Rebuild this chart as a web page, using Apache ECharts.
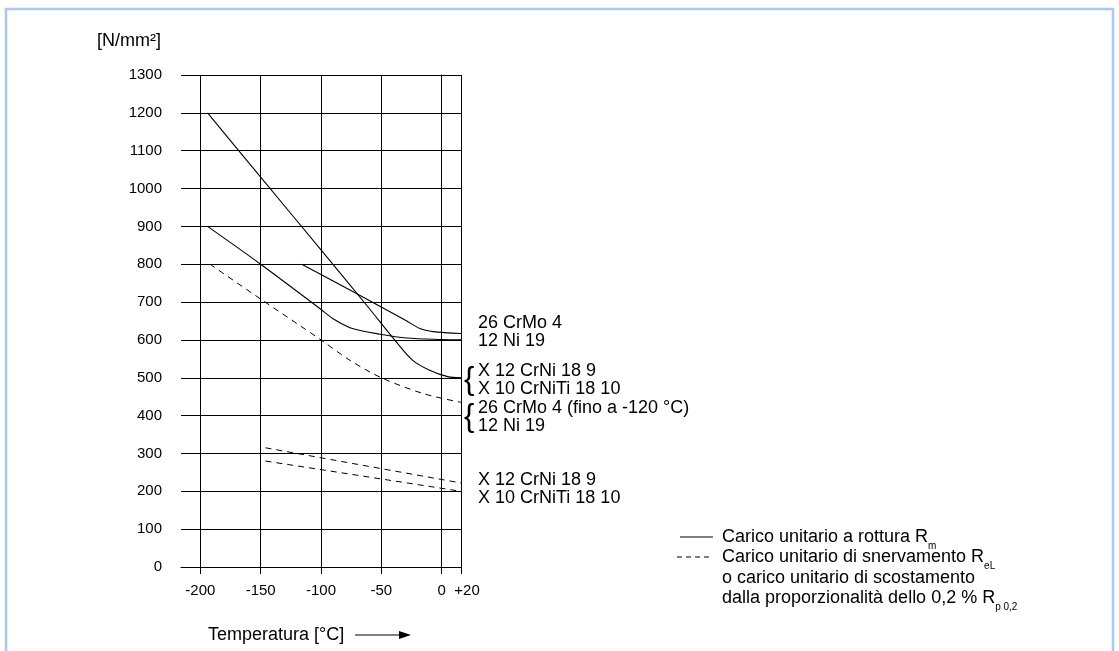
<!DOCTYPE html>
<html><head><meta charset="utf-8">
<script src="https://cdn.jsdelivr.net/npm/echarts@6/dist/echarts.min.js"></script>
<style>html,body{margin:0;padding:0;background:#fff}#c{width:1119px;height:651px}</style>
</head><body><div id="c"></div>
<script>
// ---- data (temperature °C, strength N/mm²) ----
const xTickValues = [-200, -150, -100, -50, 0, 16];
const xTickLabels = ['-200', '-150', '-100', '-50', '0', '+20'];
const yMin = 0, yMax = 1300, yStep = 100;

// tensile strength Rm (solid)
const rmX12CrNi = [[-194,1200],[-150,1030],[-100,838],[-60,683],[-39,600],[-24,546],[-10,520],[5,503],[16,500]];
const rmNi19    = [[-194,900],[-150,800],[-101,683],[-90,656],[-74,630],[-51,615],[-29,605],[0,601],[16,600]];
const rmCrMo4   = [[-116,800],[-68,718],[-30,652],[-18,630],[-7,622],[16,617]];
// yield strength ReL / Rp0,2 (dashed)
const reCrMoNi  = [[-192,800],[-150,708],[-100,600],[-76,546],[-50,500],[-15,458],[16,435]];
const reX12CrNi = [[-146,315],[16,222]];
const reX10CrNiTi = [[-146,280],[16,200]];

const rightLabels = ['26 CrMo 4', '12 Ni 19', 'X 12 CrNi 18 9', 'X 10 CrNiTi 18 10',
  '26 CrMo 4 (fino a -120 °C)', '12 Ni 19', 'X 12 CrNi 18 9', 'X 10 CrNiTi 18 10'];
const legendLines = [
  'Carico unitario a rottura R{s|m}',
  'Carico unitario di snervamento R{s|eL}',
  'o carico unitario di scostamento',
  'dalla proporzionalità dello 0,2 % R{s|p 0,2}'
];
const yTitle = '[N/mm²]';
const xTitle = 'Temperatura [°C]';

// ---- chart ----
const FONT = 'Liberation Sans, Arial, Helvetica, sans-serif';
const chart = echarts.init(document.getElementById('c'), null, {renderer: 'canvas'});

function lineSeries(data, dashed, smooth) {
  return {
    type: 'line', data: data, showSymbol: false, smooth: smooth, silent: true,
    lineStyle: {color: '#000', width: dashed ? 1 : 1.1, type: dashed ? [6, 5] : 'solid'}
  };
}

const rightYs = [323, 341, 371, 389, 408, 426, 480, 498];
const graphics = [
  {type: 'rect', shape: {x: 6, y: 9, width: 1107, height: 700}, style: {fill: 'none', stroke: '#a9c9f0', lineWidth: 2.5}, silent: true},
  {type: 'text', x: 97, y: 41, style: {text: yTitle, font: '18px ' + FONT, fill: '#000', verticalAlign: 'middle'}},
  {type: 'text', x: 208, y: 635, style: {text: xTitle, font: '18px ' + FONT, fill: '#000', verticalAlign: 'middle'}},
  {type: 'line', shape: {x1: 355, y1: 635, x2: 402, y2: 635}, style: {stroke: '#000', lineWidth: 1.2}},
  {type: 'polygon', shape: {points: [[399, 631], [411, 635], [399, 639]]}, style: {fill: '#000'}},
  {type: 'text', x: 464, y: 380, style: {text: '{', font: '31px ' + FONT, fill: '#000', verticalAlign: 'middle'}},
  {type: 'text', x: 464, y: 417, style: {text: '{', font: '31px ' + FONT, fill: '#000', verticalAlign: 'middle'}},
  {type: 'line', shape: {x1: 680, y1: 537, x2: 713, y2: 537}, style: {stroke: '#000', lineWidth: 1.1}},
  {type: 'line', shape: {x1: 677, y1: 557, x2: 713, y2: 557}, style: {stroke: '#000', lineWidth: 1, lineDash: [5, 4]}}
];
rightLabels.forEach((t, i) => graphics.push({type: 'text', x: 478, y: rightYs[i],
  style: {text: t, font: '18px ' + FONT, fill: '#000', verticalAlign: 'middle'}}));
const legYs = [537, 557, 578, 598];
legendLines.forEach((t, i) => graphics.push({type: 'text', x: 722, y: legYs[i],
  style: {text: t, fontSize: 18, fontFamily: FONT, fill: '#000', verticalAlign: 'middle',
    rich: {s: {fontSize: 10, fontFamily: FONT, fill: '#000', verticalAlign: 'bottom', lineHeight: 29}}}}));

chart.setOption({
  animation: false,
  backgroundColor: '#fff',
  grid: {left: 181, right: 658, top: 75, bottom: 84, containLabel: false},
  xAxis: {
    type: 'value', min: -216, max: 16,
    axisLine: {show: true, onZero: false, lineStyle: {color: '#000', width: 1}},
    axisTick: {show: true, length: 7, customValues: xTickValues, lineStyle: {color: '#000'}},
    axisLabel: {customValues: xTickValues, color: '#000', fontSize: 15, fontFamily: FONT, margin: 16,
      formatter: v => { const i = xTickValues.indexOf(v);
        if (i < 0) return ''; return i === xTickValues.length - 1 ? '{p|' + xTickLabels[i] + '}' : xTickLabels[i]; },
      rich: {p: {fontSize: 15, fontFamily: FONT, color: '#000', padding: [0, 0, 0, 12]}}},
    splitLine: {show: true, lineStyle: {color: '#000', width: 1}}
  },
  yAxis: {
    type: 'value', min: yMin, max: yMax, interval: yStep,
    axisLine: {show: true, lineStyle: {color: '#000', width: 1}},
    axisTick: {show: true, length: 8, lineStyle: {color: '#000'}},
    axisLabel: {color: '#000', fontSize: 15, fontFamily: FONT, margin: 19, formatter: v => String(v)},
    splitLine: {show: true, lineStyle: {color: '#000', width: 1}}
  },
  series: [
    lineSeries(rmX12CrNi, false, 0.3),
    lineSeries(rmNi19, false, 0.3),
    lineSeries(rmCrMo4, false, 0.3),
    lineSeries(reCrMoNi, true, 0.3),
    lineSeries(reX12CrNi, true, false),
    lineSeries(reX10CrNiTi, true, false)
  ],
  graphic: graphics
});
</script></body></html>
